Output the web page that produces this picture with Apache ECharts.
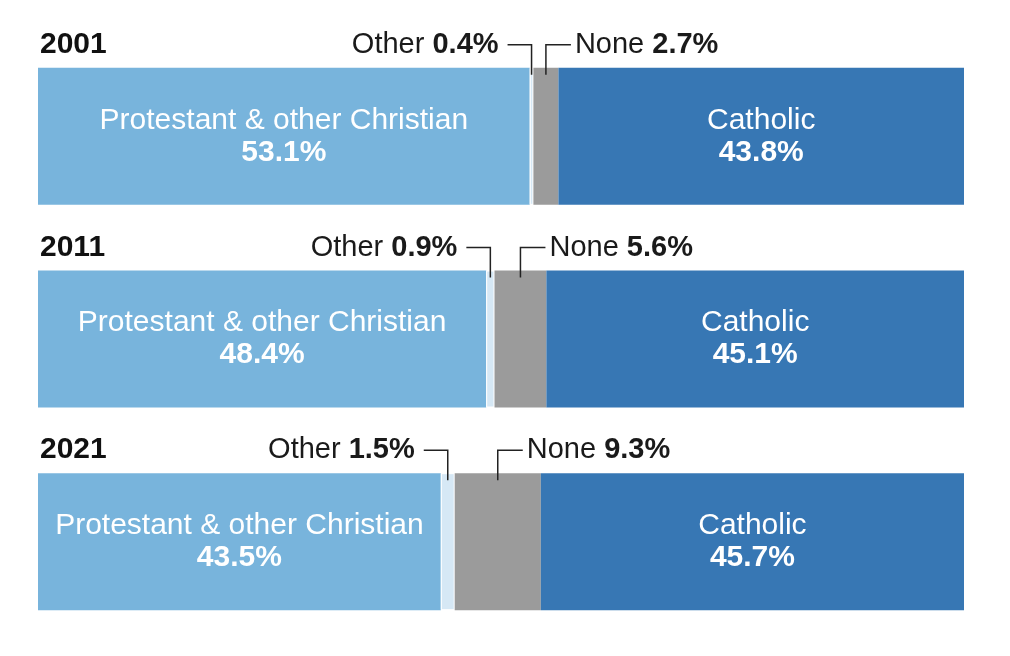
<!DOCTYPE html>
<html>
<head>
<meta charset="utf-8">
<script src="https://cdn.jsdelivr.net/npm/echarts@6/dist/echarts.min.js"></script>
<style>
  html, body { margin: 0; padding: 0; background: #ffffff; }
  #chart { width: 1010px; height: 656px; }
</style>
</head>
<body>
<div id="chart"></div>
<script>
// census shares, percent
var years = ['2001', '2011', '2021'];
var protestant = [53.1, 48.4, 43.5];
var other = [0.4, 0.9, 1.5];
var none = [2.7, 5.6, 9.3];
var catholic = [43.8, 45.1, 45.7];

var FONT = '"Liberation Sans", Arial, Helvetica, sans-serif';
var BAR_H = 137;

var myChart = echarts.init(document.getElementById('chart'));

function insideLabel(name, values) {
	return {
		show : true,
		position : 'inside',
		formatter : function(p) {
			return '{a|' + name + '}\n{b|' + values[p.dataIndex].toFixed(1) + '%}';
		},
		rich : {
			a : {
				color : '#ffffff',
				fontFamily : FONT,
				fontSize : 30,
				lineHeight : 32
			},
			b : {
				color : '#ffffff',
				fontFamily : FONT,
				fontSize : 30,
				fontWeight : 'bold',
				lineHeight : 32
			}
		}
	};
}

var calloutRich = {
	n : { fontFamily : FONT, fontSize : 29, fill : '#1a1a1a' },
	b : { fontFamily : FONT, fontSize : 29, fontWeight : 'bold', fill : '#1a1a1a' }
};

// year title + "Other" / "None" callouts with elbow leader lines
function renderCallouts(params, api) {
	var i = api.value(1);
	var base = api.coord([ 0, i ]);
	var top = base[1] - BAR_H / 2;
	var lineY = top - 23;
	var ox = api.coord([ protestant[i] + other[i] / 2, i ])[0];
	var nx = api.coord([ protestant[i] + other[i] + none[i] / 2, i ])[0];
	var lineStyle = { stroke : '#222222', lineWidth : 1.5, fill : null };
	return {
		type : 'group',
		children : [ {
			type : 'text',
			x : base[0] + 2,
			y : lineY,
			style : {
				text : years[i],
				fontFamily : FONT,
				fontSize : 30,
				fontWeight : 'bold',
				fill : '#111111',
				verticalAlign : 'middle'
			}
		}, {
			type : 'polyline',
			shape : { points : [ [ ox - 24, lineY ], [ ox, lineY ], [ ox, top + 7 ] ] },
			style : lineStyle
		}, {
			type : 'text',
			x : ox - 33,
			y : lineY,
			style : {
				text : '{n|Other }{b|' + other[i].toFixed(1) + '%}',
				rich : calloutRich,
				align : 'right',
				verticalAlign : 'middle'
			}
		}, {
			type : 'polyline',
			shape : { points : [ [ nx, top + 7 ], [ nx, lineY ], [ nx + 25, lineY ] ] },
			style : lineStyle
		}, {
			type : 'text',
			x : nx + 29,
			y : lineY,
			style : {
				text : '{n|None }{b|' + none[i].toFixed(1) + '%}',
				rich : calloutRich,
				align : 'left',
				verticalAlign : 'middle'
			}
		} ]
	};
}

var option = {
	animation : false,
	grid : {
		left : 38,
		right : 46,
		top : 35,
		bottom : 13
	},
	xAxis : {
		type : 'value',
		min : 0,
		max : 100,
		show : false
	},
	yAxis : {
		type : 'category',
		data : years,
		inverse : true,
		show : false
	},
	series : [ {
		name : 'Protestant & other Christian',
		type : 'bar',
		stack : 'total',
		barWidth : BAR_H,
		data : protestant,
		itemStyle : { color : '#78b4dc' },
		label : insideLabel('Protestant & other Christian', protestant)
	}, {
		name : 'Other',
		type : 'bar',
		stack : 'total',
		data : other,
		itemStyle : { color : '#d6e8f5', borderColor : '#ffffff', borderWidth : 1 }
	}, {
		name : 'None',
		type : 'bar',
		stack : 'total',
		data : none,
		itemStyle : { color : '#9b9b9b' }
	}, {
		name : 'Catholic',
		type : 'bar',
		stack : 'total',
		data : catholic,
		itemStyle : { color : '#3777b4' },
		label : insideLabel('Catholic', catholic)
	}, {
		name : 'callouts',
		type : 'custom',
		clip : false,
		z : 10,
		silent : true,
		encode : { x : 0, y : 1 },
		data : years.map(function(y, idx) { return [ 0, idx ]; }),
		renderItem : renderCallouts
	} ]
};
myChart.setOption(option);
</script>
</body>
</html>
